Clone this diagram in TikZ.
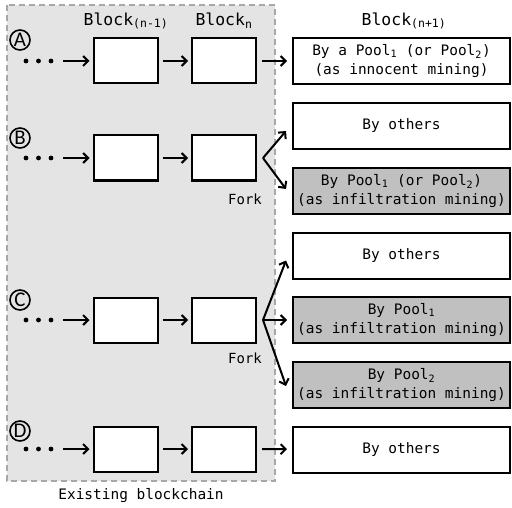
\documentclass[tikz,border=0pt]{standalone}
\usepackage{fontspec}
\setmainfont{DejaVu Sans Mono}
\newfontfamily\circfont{Carlito}
\usetikzlibrary{arrows.meta,calc}
\definecolor{bgray}{RGB}{228,228,228}
\definecolor{bordgray}{RGB}{168,168,168}
\definecolor{boxgray}{RGB}{192,192,192}
\begin{document}
\begin{tikzpicture}[x=1bp,y=-1bp,
  blk/.style={draw,line width=2bp,fill=white,minimum width=64bp,minimum height=45bp,inner sep=0},
  res/.style={draw,line width=2bp,fill=white,minimum width=217bp,minimum height=46bp,inner sep=0,align=center,font=\fontsize{14.5}{19}\selectfont},
  resg/.style={res,fill=boxgray},
  arr/.style={line width=2bp,-{Straight Barb[length=5bp,width=10bp]}},
  lbl/.style={circle,draw,line width=1.6bp,inner sep=0,minimum size=20bp,font=\circfont\fontsize{21}{21}\selectfont},
  head/.style={font=\fontsize{16.5}{18}\selectfont,inner sep=0},
  small/.style={font=\fontsize{14}{16}\selectfont,inner sep=0},
  dot/.style={fill=black},
]
\useasboundingbox (0,0) rectangle (512,508);
% existing blockchain area
\draw[fill=bgray,draw=bordgray,line width=1.5bp,dash pattern=on 6bp off 4bp] (7,5) rectangle (275,481);
\node[small,font=\fontsize{14.5}{16}\selectfont] (exist) at (141,496) {Existing blockchain};

% headings
\node[head] (h1) at (126,21) {Block\textsubscript{(n-1)}};
\node[head] (h2) at (224,21) {Block\textsubscript{n}};
\node[head] (h3) at (404,21) {Block\textsubscript{(n+1)}};

% circled letters
\node[lbl] (cA) at (20,40) {A};
\node[lbl] (cB) at (20,138) {B};
\node[lbl] (cC) at (20,300) {C};
\node[lbl] (cD) at (20,431) {D};

% rows
\foreach \r/\y in {A/61,B/158,C/320,D/449}{
  \fill[dot] (26,\y) circle (2.4bp) (38.5,\y) circle (2.4bp) (51,\y) circle (2.4bp);
  \coordinate (d\r) at (63,\y);
  \node[blk] (b1\r) at (125.5,\y) {};
  \node[blk] (b2\r) at (224,\y) {};
  \draw[arr,shorten >=3bp] (d\r) -- (b1\r);
  \draw[arr,shorten <=4bp,shorten >=3bp] (b1\r) -- (b2\r);
}

% row A
\node[res] (rA) at (401.5,61) {By a Pool\textsubscript{1} (or Pool\textsubscript{2})\\(as innocent mining)};
\draw[arr,shorten <=5bp,shorten >=5bp] (b2A) -- (rA);

% row B
\node[res] (oB) at (401.5,126) {By others};
\node[resg] (pB) at (401.5,191) {By Pool\textsubscript{1} (or Pool\textsubscript{2})\\(as infiltration mining)};
\coordinate (fB) at (263,158);
\node[small] (forkB) at (245,199) {Fork};
\draw[arr] (fB) -- ($(oB.west)+(-6,5)$);
\draw[arr] (fB) -- ($(pB.west)+(-6,-2)$);

% row C
\node[res] (oC) at (401.5,255.5) {By others};
\node[resg] (p1C) at (401.5,320) {By Pool\textsubscript{1}\\(as infiltration mining)};
\node[resg] (p2C) at (401.5,385) {By Pool\textsubscript{2}\\(as infiltration mining)};
\coordinate (fC) at (263,320);
\node[small] (forkC) at (245,358) {Fork};
\draw[arr] (fC) -- ($(oC.west)+(-6,5)$);
\draw[arr,shorten >=5bp] (fC) -- (p1C.west);
\draw[arr] (fC) -- ($(p2C.west)+(-6,1)$);

% row D
\node[res] (oD) at (401.5,449.5) {By others};
\draw[arr,shorten <=5bp,shorten >=5bp] (b2D) -- (oD);
\end{tikzpicture}
\end{document}
